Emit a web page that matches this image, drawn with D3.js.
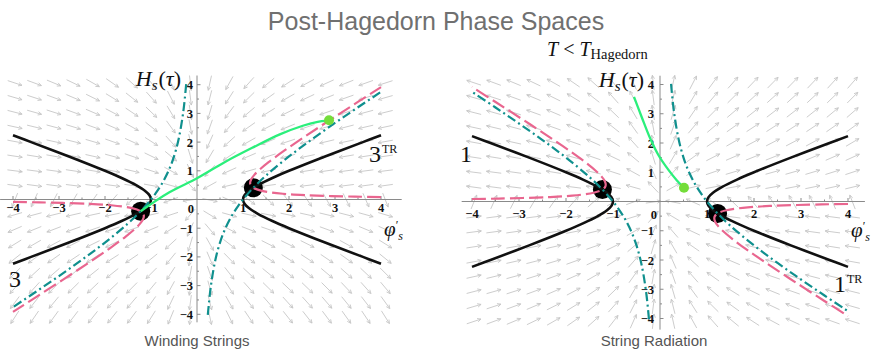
<!DOCTYPE html>
<html><head><meta charset="utf-8">
<script src="https://cdn.jsdelivr.net/npm/d3@7"></script>
<style>
body{margin:0;background:#fff;}
svg{display:block;}
</style></head><body>
<svg id="chart" width="872" height="351"></svg>
<script>
// ---------------- data ----------------
const titleText = "Post-Hagedorn Phase Spaces";
const captions = ["Winding Strings", "String Radiation"];
const tickValues = [-4, -3, -2, -1, 1, 2, 3, 4];
const tickLabels = ["\u22124", "\u22123", "\u22122", "\u22121", "1", "2", "3", "4"];

// black hyperbola (one half, |phi'| vs H)
const blackH = [-2.236, -2, -1.5, -1, -0.75, -0.5, -0.3, -0.15, 0, 0.15, 0.3, 0.5, 0.75, 1, 1.5, 2, 2.236];
const blackX = [4, 3.606, 2.784, 2, 1.639, 1.323, 1.127, 1.033, 1, 1.033, 1.127, 1.323, 1.639, 2, 2.784, 3.606, 4];

// teal dash-dot branch (x > 0 branch of the left panel)
const tealX = [0.235, 0.3, 0.4, 0.5, 0.6, 0.75, 0.9, 1, 1.2, 1.5, 2, 2.5, 3, 3.5, 4];
const tealH = [-4.02, -3.033, -2.1, -1.5, -1.067, -0.583, -0.211, 0, 0.367, 0.833, 1.5, 2.1, 2.667, 3.214, 3.75];

// pink dashed branch (H > 0 branch of the left panel)
const pinkH = [0.0851, 0.1, 0.15, 0.2, 0.3, 0.4, 0.5, 0.577, 0.7, 0.85, 1, 1.3, 1.7, 2.2, 2.8, 3.4, 3.915];
const pinkX = [4, 3.433, 2.372, 1.867, 1.411, 1.233, 1.167, 1.155, 1.176, 1.242, 1.333, 1.556, 1.896, 2.352, 2.919, 3.498, 4];

// green trajectories
const greenLeftX = [-1.225, -0.6, 0, 0.6, 1.2, 1.8, 2.3, 2.6, 2.87];
const greenLeftH = [-0.408, 0.25, 0.74, 1.3, 1.8, 2.27, 2.57, 2.70, 2.76];
const greenRightX = [-0.553, -0.39, -0.21, -0.035, 0.18, 0.355, 0.51];
const greenRightH = [3.58, 2.89, 2.16, 1.59, 1.08, 0.73, 0.47];

// fixed points (black dots)
const fixedLeftX = [-1.225, 1.225], fixedLeftH = [-0.408, 0.408];
const fixedRightX = [-1.225, 1.225], fixedRightH = [0.408, -0.408];

// ---------------- layout ----------------
const svg = d3.select("#chart");
const panels = [
  { key: "L", xr: [13, 381], yr: [314.3, 84.7], xAxisExt: [-4.28, 4.45], yAxisExt: [-4.28, 4.32],
    xLabDy: 12.5, yLabDx: -4, mirror: 1 },
  { key: "R", xr: [472, 848], yr: [318.5, 84.5], xAxisExt: [-4.22, 4.36], yAxisExt: [-4.38, 4.3],
    xLabDy: 16, yLabDx: -6, mirror: -1 }
];
panels.forEach(p => {
  p.x = d3.scaleLinear().domain([-4, 4]).range(p.xr);
  p.y = d3.scaleLinear().domain([-4, 4]).range(p.yr);
});

// direction fields of the two phase spaces
function fieldLeft(x, y) {
  return [-x * y, -(0.5 * y * y + 0.02 * x * x + (y < 0 ? 0.12 * x * x * y * y : 0))];
}
function fieldRight(x, y) {
  return [x * y, 0.5 * y * y + 0.02 * x * x + (x > 0 && y > 0 ? 0.08 * x * x * y * y : 0)];
}

function drawField(g, p, f) {
  const cols = d3.range(20).map(i => -3.96 + i * 0.424);
  const rows = d3.range(17).map(j => 4.06 - j * 0.51);
  const L = 15, hl = 4;
  const fg = g.append("g").attr("stroke", "#c6c6c6").attr("stroke-width", 0.9).attr("fill", "none");
  rows.forEach(yy => cols.forEach(xx => {
    let [u, v] = f(xx, yy);
    let du = u * Math.abs(p.x(1) - p.x(0)), dv = -v * Math.abs(p.y(1) - p.y(0));
    const m = Math.hypot(du, dv);
    if (m < 1e-9) { du = 1; dv = 0; } else { du /= m; dv /= m; }
    const cx = p.x(xx), cy = p.y(yy);
    const x1 = cx - du * L / 2, y1 = cy - dv * L / 2, x2 = cx + du * L / 2, y2 = cy + dv * L / 2;
    const a = Math.atan2(dv, du);
    const h1 = [x2 - hl * Math.cos(a - 0.45), y2 - hl * Math.sin(a - 0.45)];
    const h2 = [x2 - hl * Math.cos(a + 0.45), y2 - hl * Math.sin(a + 0.45)];
    fg.append("path").attr("d", `M${x1},${y1}L${x2},${y2}M${h1[0]},${h1[1]}L${x2},${y2}L${h2[0]},${h2[1]}`);
  }));
}

function drawAxes(g, p) {
  const ax = g.append("g").attr("stroke", "#8a8a8a").attr("stroke-width", 1);
  ax.append("line").attr("x1", p.x(p.xAxisExt[0])).attr("x2", p.x(p.xAxisExt[1]))
    .attr("y1", p.y(0)).attr("y2", p.y(0));
  ax.append("line").attr("y1", p.y(p.yAxisExt[0])).attr("y2", p.y(p.yAxisExt[1]))
    .attr("x1", p.x(0)).attr("x2", p.x(0));
  const minor = d3.range(-8, 9).map(d => d / 2).filter(d => d !== 0);
  minor.forEach(t => {
    const len = Number.isInteger(t) ? 3.5 : 2;
    ax.append("line").attr("x1", p.x(t)).attr("x2", p.x(t)).attr("y1", p.y(0)).attr("y2", p.y(0) - len);
    ax.append("line").attr("y1", p.y(t)).attr("y2", p.y(t)).attr("x1", p.x(0)).attr("x2", p.x(0) + len);
  });
  const lab = g.append("g").attr("font-family", "'Liberation Serif', 'DejaVu Serif', serif")
    .attr("font-weight", "bold").attr("font-size", 12.5).attr("fill", "#111");
  tickValues.forEach((t, i) => {
    lab.append("text").attr("x", p.x(t)).attr("y", p.y(0) + p.xLabDy).attr("text-anchor", "middle").text(tickLabels[i]);
    lab.append("text").attr("x", p.x(0) + p.yLabDx).attr("y", p.y(t) + 4.5).attr("text-anchor", "end").text(tickLabels[i]);
  });
  lab.append("text").attr("x", p.x(0) - 3).attr("y", p.y(0) + p.xLabDy + 1).attr("text-anchor", "end").text("0");
}

const lineGen = (p) => d3.line().x(d => p.x(d[0])).y(d => p.y(d[1])).curve(d3.curveCatmullRom.alpha(0.5));

function drawCurves(g, p) {
  const s = p.mirror;
  const line = lineGen(p);
  const fx = s > 0 ? fixedLeftX : fixedRightX, fh = s > 0 ? fixedLeftH : fixedRightH;
  fx.forEach((x, i) => g.append("circle").attr("cx", p.x(x)).attr("cy", p.y(fh[i])).attr("r", 9.5).attr("fill", "#000"));
  [1, -1].forEach(sg => {
    g.append("path").attr("d", line(blackH.map((h, i) => [sg * blackX[i], h])))
      .attr("fill", "none").attr("stroke", "#111").attr("stroke-width", 2.6);
  });
  [1, -1].forEach(sg => {
    const pts = pinkH.map((h, i) => [s * sg * pinkX[i], sg * h]);
    g.append("path").attr("d", line(pts)).attr("fill", "none").attr("stroke", "#e9668f")
      .attr("stroke-width", 2.2).attr("stroke-dasharray", "14,5");
  });
  [1, -1].forEach(sg => {
    const pts = tealX.map((x, i) => [sg * x, s * sg * tealH[i]]);
    g.append("path").attr("d", line(pts)).attr("fill", "none").attr("stroke", "#10908e")
      .attr("stroke-width", 2.2).attr("stroke-dasharray", "9,3.5,2,3.5");
  });
  const gx = s > 0 ? greenLeftX : greenRightX, gh = s > 0 ? greenLeftH : greenRightH;
  const gpts = gx.map((x, i) => [x, gh[i]]);
  g.append("path").attr("d", line(gpts)).attr("fill", "none").attr("stroke", "#2bef7b").attr("stroke-width", 2.3);
  const end = gpts[gpts.length - 1];
  g.append("circle").attr("cx", p.x(end[0])).attr("cy", p.y(end[1])).attr("r", 5).attr("fill", "#74dd3a");
}

panels.forEach((p, idx) => {
  const g = svg.append("g");
  drawField(g, p, idx === 0 ? fieldLeft : fieldRight);
  drawAxes(g, p);
  drawCurves(g, p);
});

// ---------------- texts ----------------
const serif = "'Liberation Serif', 'DejaVu Serif', serif";
svg.append("text").attr("x", 436).attr("y", 30).attr("text-anchor", "middle")
  .attr("font-family", "'Liberation Sans', Arial, sans-serif").attr("font-size", 25)
  .attr("fill", "#707070").text(titleText);

// T < T_Hagedorn
const tt = svg.append("text").attr("x", 547).attr("y", 56).attr("font-family", serif).attr("font-size", 20).attr("fill", "#111");
tt.append("tspan").attr("font-style", "italic").text("T");
tt.append("tspan").attr("dx", 5).text("<");
tt.append("tspan").attr("dx", 5).attr("font-style", "italic").text("T");
tt.append("tspan").attr("font-size", 14.5).attr("dy", 3).text("Hagedorn");

// H_s(tau) labels
function hLabel(xEnd, yBase) {
  const t = svg.append("text").attr("x", xEnd).attr("y", yBase).attr("text-anchor", "end")
    .attr("font-family", serif).attr("font-size", 22).attr("fill", "#111");
  t.append("tspan").attr("font-style", "italic").text("H");
  t.append("tspan").attr("font-style", "italic").attr("font-size", 15).attr("dy", 4).text("s");
  t.append("tspan").attr("dy", -4).attr("dx", 1).text("(");
  t.append("tspan").attr("font-style", "italic").text("\u03C4");
  t.append("tspan").text(")");
}
hLabel(181, 86);
hLabel(644, 87);

// phi'_s labels (single text element)
function phiLabel(x0, yBase) {
  const t = svg.append("text").attr("x", x0).attr("y", yBase).attr("font-family", serif)
    .attr("font-size", 21).attr("fill", "#111");
  t.append("tspan").attr("font-style", "italic").text("\u03C6");
  t.append("tspan").attr("font-size", 12).attr("dy", -7).text("\u2032");
  t.append("tspan").attr("font-size", 12).attr("font-style", "italic").attr("dy", 11).text("s");
}
phiLabel(384, 236);
phiLabel(851, 237);

// region labels
function bigLabel(x, y, main, sup) {
  const t = svg.append("text").attr("x", x).attr("y", y).attr("font-family", serif).attr("font-size", 24).attr("fill", "#111");
  t.append("tspan").text(main);
  if (sup) t.append("tspan").attr("font-size", 12).attr("dy", -9).attr("dx", 1).text(sup);
}
bigLabel(9, 287, "3");
bigLabel(369, 162, "3", "TR");
bigLabel(460, 162, "1");
bigLabel(834, 292, "1", "TR");

// captions
svg.append("text").attr("x", 197).attr("y", 346).attr("text-anchor", "middle")
  .attr("font-family", "'Liberation Sans', Arial, sans-serif").attr("font-size", 15).attr("fill", "#555").text(captions[0]);
svg.append("text").attr("x", 654).attr("y", 346).attr("text-anchor", "middle")
  .attr("font-family", "'Liberation Sans', Arial, sans-serif").attr("font-size", 15).attr("fill", "#555").text(captions[1]);
</script>
</body></html>
